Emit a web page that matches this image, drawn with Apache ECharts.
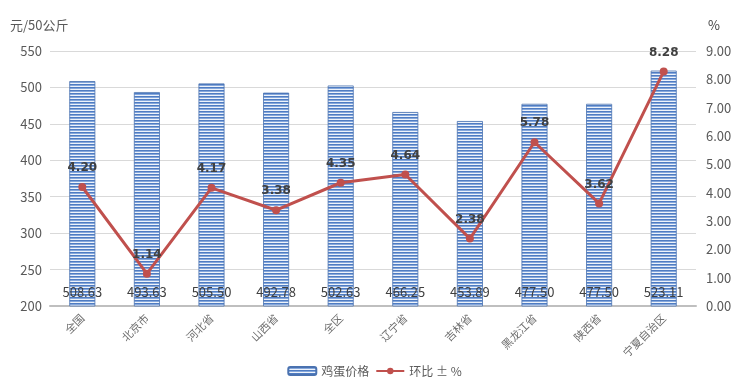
<!DOCTYPE html>
<html><head><meta charset="utf-8">
<script src="https://cdn.jsdelivr.net/npm/echarts@6/dist/echarts.min.js"></script>
<style>html,body{margin:0;padding:0;background:#fff}#c{width:749px;height:390px}</style>
</head><body><div id="c"></div>
<script>
const categories = ['全国','北京市','河北省','山西省','全区','辽宁省','吉林省','黑龙江省','陕西省','宁夏自治区'];
const eggPrice = [508.63,493.63,505.50,492.78,502.63,466.25,453.89,477.50,477.50,523.11];
const momChange = [4.20,1.14,4.17,3.38,4.35,4.64,2.38,5.78,3.62,8.28];

function stripe(){
  const cv=document.createElement('canvas');cv.width=4;cv.height=3;
  const g=cv.getContext('2d');
  g.fillStyle='#4f7cc2';g.fillRect(0,0,4,1);
  g.fillStyle='#86a8dc';g.fillRect(0,1,4,1);
  g.fillStyle='#eef3fa';g.fillRect(0,2,4,1);
  return cv;
}
const pat={image:stripe(),repeat:'repeat'};
const font='"Noto Sans CJK SC", sans-serif';
const chart=echarts.init(document.getElementById('c'));
chart.setOption({
  animation:false,
  textStyle:{fontFamily:font},
  grid:{left:50,right:53,top:51,bottom:84},
  legend:{bottom:8,left:'center',itemWidth:28,itemHeight:8,itemGap:6,
    textStyle:{color:'#595959',fontSize:12,fontFamily:font},
    data:[{name:'鸡蛋价格'},{name:'环比 ± %'}]},
  xAxis:{type:'category',data:categories,
    axisLine:{lineStyle:{color:'#bfbfbf',width:2}},axisTick:{show:false},
    axisLabel:{rotate:45,color:'#6e6e6e',fontSize:11,margin:10,fontFamily:font}},
  yAxis:[
    {type:'value',min:200,max:550,interval:50,name:'元/50公斤',
      nameTextStyle:{color:'#595959',fontSize:13,align:'left',padding:[0,0,4,-40]},
      axisLine:{show:false},axisTick:{show:false},
      axisLabel:{color:'#595959',fontSize:13,margin:8},
      splitLine:{lineStyle:{color:'#d9d9d9'}}},
    {type:'value',min:0,max:9,interval:1,name:'%',
      nameTextStyle:{color:'#404040',fontSize:13,align:'left',padding:[0,0,4,12]},
      axisLine:{show:false},axisTick:{show:false},
      axisLabel:{color:'#595959',fontSize:13,margin:10,formatter:v=>v.toFixed(2)},
      splitLine:{show:false}}
  ],
  series:[
    {name:'鸡蛋价格',type:'bar',data:eggPrice,barWidth:26,
      itemStyle:{color:pat,borderColor:'#4a72b0',borderWidth:0.8},
      label:{show:true,position:'insideBottom',distance:8,color:'#404040',fontSize:13,
        formatter:p=>p.value.toFixed(2)}},
    {name:'环比 ± %',type:'line',yAxisIndex:1,data:momChange,
      lineStyle:{color:'#c0504d',width:3},itemStyle:{color:'#c0504d'},
      symbol:'circle',symbolSize:8,
      label:{show:true,position:'top',distance:9,color:'#404040',fontSize:12,fontWeight:'bold',
        fontFamily:'"DejaVu Sans", sans-serif',
        formatter:p=>p.value.toFixed(2)}}
  ]
});
</script></body></html>
